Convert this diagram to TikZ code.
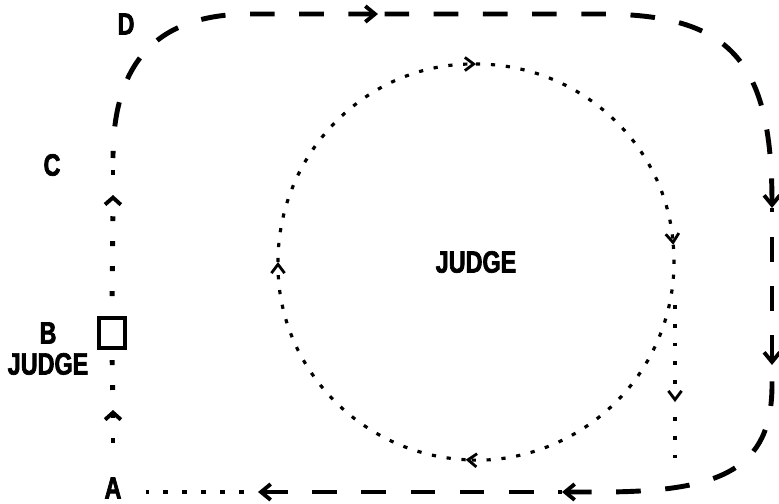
\documentclass[tikz,border=0pt]{standalone}
\usepackage{fontspec}
\newfontfamily\judgefont[FakeStretch=0.76,FakeBold=2.2]{Liberation Sans Bold}
\usepackage{tikz}
\usetikzlibrary{arrows.meta,positioning,calc}

\begin{document}
\begin{tikzpicture}[
    x=0.02cm, y=-0.02cm,
    letter/.style={font=\judgefont\fontsize{17.5}{18}\selectfont, inner sep=0pt},
    post/.style={rectangle, draw=black, line width=2.3pt, minimum width=15pt, minimum height=17pt, inner sep=0pt},
    track/.style={line width=2.8pt, dash pattern=on 14pt off 14pt},
    walk/.style={line width=2.8pt, dash pattern=on 2.8pt off 11.4pt, dash phase=2.8pt},
    trot/.style={line width=2.8pt, dash pattern=on 2.8pt off 8pt, dash phase=2.8pt},
    ringline/.style={line width=1.8pt, dash pattern=on 2.4pt off 6.1pt},
    drop/.style={line width=2.2pt, dash pattern=on 2.2pt off 8.5pt},
    bigtip/.style={{Straight Barb[length=5.5pt,width=9pt,line width=2.2pt]}-},
    caret/.style={-{Straight Barb[length=4pt,width=9pt,line width=2.2pt]}},
    ringtip/.style={-{Straight Barb[length=5pt,width=7.5pt,line width=1.6pt]}}
]
\useasboundingbox (0,0) rectangle (779,504);

% Letters
\node[letter] (D) at (126,24) {D};
\node[letter] (C) at (52,165) {C};
\node[letter] (B) at (48,333) {B};
\node[letter, below=5pt of B] (judgeB) {JUDGE};
\node[letter] (A) at (113,488) {A};
\node[letter] (judge) at (476,262) {JUDGE};

% Judge post
\node[post] (box) at (112,333) {};

% Track points
\coordinate (nw1) at (113,158);
\coordinate (nw2) at (250,14);
\coordinate (topArrow) at (378,14);
\coordinate (ne1) at (600,14);
\coordinate (eastA) at (772,208);
\coordinate (eastB) at (772,365);
\coordinate (se1) at (772,385);
\coordinate (se2) at (600,492);
\coordinate (southA) at (562,492);
\coordinate (southB) at (258,492);
\coordinate (aEnd) at (146,492);
\coordinate (aStart) at (113,463);
\coordinate (upA) at (113,410);
\coordinate (upB) at (113,195);

% Outer track (each piece drawn back from its arrow)
\draw[track, bigtip] (topArrow) -- (nw2) .. controls (150,14) and (113,70) .. (nw1);
\draw[track, bigtip] (eastA) .. controls (772,60) and (730,14) .. (ne1) -- (topArrow);
\draw[track, bigtip] (eastB) -- (eastA);
\draw[track, bigtip] (southA) -- (se2) .. controls (720,492) and (772,470) .. (se1) -- (eastB);
\draw[track, bigtip] (southB) -- (southA);
\draw[trot] (southB) -- (aEnd);

% Walk up the long side
\draw[walk, caret] (aStart) -- (upA);
\draw[walk] (upA) -- (box.south);
\draw[walk, caret] (box.north) -- (upB);
\draw[walk] (upB) -- (nw1);

% Circle round the judge
\draw[ringline, ringtip] ([shift={(180:198)}]judge.center) arc[start angle=180, end angle=270, radius=198];
\draw[ringline, ringtip] ([shift={(270:198)}]judge.center) arc[start angle=270, end angle=355, radius=198];
\draw[ringline, ringtip] ([shift={(355:198)}]judge.center) arc[start angle=355, end angle=453, radius=198];
\draw[ringline, ringtip] ([shift={(453:198)}]judge.center) arc[start angle=453, end angle=540, radius=198];

% Drop to the track
\coordinate (dropTop) at (675,305);
\coordinate (dropMid) at (675,402);
\coordinate (dropEnd) at (675,460);
\draw[drop, ringtip] (dropTop) -- (dropMid);
\draw[drop, dash phase=2.2pt] (dropMid) -- (dropEnd);

\end{tikzpicture}
\end{document}
